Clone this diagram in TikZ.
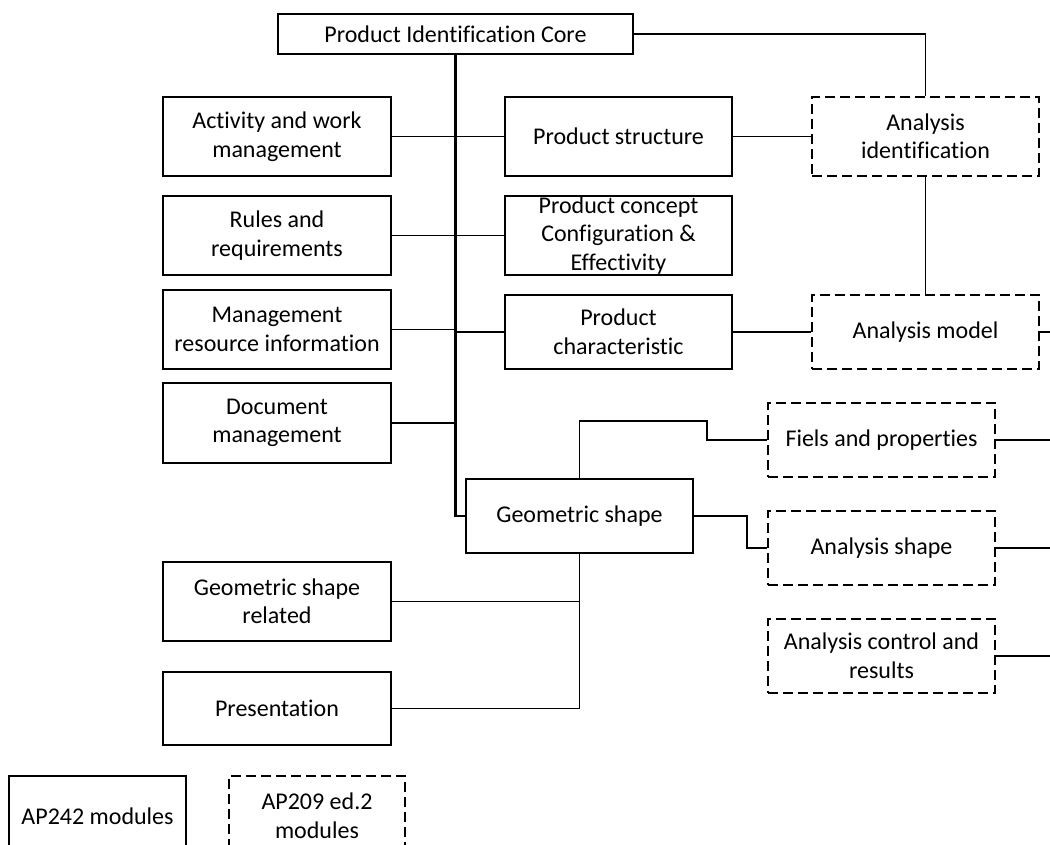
\documentclass[tikz,border=0pt]{standalone}
\usepackage{fontspec}
\setmainfont{Carlito}[Ligatures=NoCommon]
\begin{document}
\begin{tikzpicture}[x=1pt,y=-1pt,
  box/.style={draw=black,line width=1.4pt,inner sep=0pt,align=center,
    font=\fontsize{24}{28.5}\selectfont,text=black},
  dbox/.style={box,dash pattern=on 10pt off 5pt},
  conn/.style={draw=black,line width=1.5pt},
  bus/.style={draw=black,line width=2.3pt}]
\useasboundingbox[fill=white] (0,0) rectangle (1050,845);
% AP242 modules (solid)
\node[box,minimum width=355pt,minimum height=40pt] (pic) at (455.5,34) {Product Identification Core};
\node[box,minimum width=228pt,minimum height=79pt] (act) at (277,136.5) {Activity and work\\management};
\node[box,minimum width=228pt,minimum height=79pt] (rules) at (277,235.5) {Rules and\\requirements};
\node[box,minimum width=228pt,minimum height=79pt] (mgmt) at (277,329.5) {Management\\resource information};
\node[box,minimum width=228pt,minimum height=80pt] (doc) at (277,423) {Document\\management};
\node[box,minimum width=227pt,minimum height=79pt] (ps) at (618.5,136.5) {Product structure};
\node[box,minimum width=227pt,minimum height=79pt] (pc) at (618.5,235.5) {Product concept\\Configuration \&\\Effectivity};
\node[box,minimum width=227pt,minimum height=74pt] (pch) at (618.5,332) {Product\\characteristic};
\node[box,minimum width=227pt,minimum height=74pt] (geo) at (579.5,516) {Geometric shape};
\node[box,minimum width=228pt,minimum height=79pt] (gsr) at (277,601.5) {Geometric shape\\related};
\node[box,minimum width=228pt,minimum height=73pt] (pres) at (277,708.5) {Presentation};
% AP209 ed.2 modules (dashed)
\node[dbox,minimum width=227pt,minimum height=79pt] (aid) at (925.5,136.5) {Analysis\\identification};
\node[dbox,minimum width=227pt,minimum height=74pt] (am) at (925.5,332) {Analysis model};
\node[dbox,minimum width=227pt,minimum height=74pt] (fp) at (881.5,440) {Fiels and properties};
\node[dbox,minimum width=227pt,minimum height=74pt] (as) at (881.5,548) {Analysis shape};
\node[dbox,minimum width=227pt,minimum height=74pt] (acr) at (881.5,656) {Analysis control and\\results};
% free ends at the right border
\coordinate (amR) at (1050,332);
\coordinate (fpR) at (1050,440);
\coordinate (asR) at (1050,548);
\coordinate (acrR) at (1050,656);
% connectors
\draw[bus] (pic.south) |- (geo.west);
\draw[conn] (act.east) -- (ps.west);
\draw[conn] (rules.east) -- (pc.west);
\draw[conn] (mgmt.east) -- (mgmt.east -| pic.south);
\draw[conn] (pch.west) -- (pch.west -| pic.south);
\draw[conn] (doc.east) -- (doc.east -| pic.south);
\draw[conn] (pic.east) -| (aid.north);
\draw[conn] (ps.east) -- (aid.west);
\draw[conn] (aid.south) -- (am.north);
\draw[conn] (pch.east) -- (am.west);
\draw[conn] (am.east) -- (amR);
\draw[conn] (geo.north) |- (707,421) |- (fp.west);
\draw[conn] (geo.east) -| (747,548) -- (as.west);
\draw[conn] (geo.south) |- (pres.east);
\draw[conn] (gsr.east) -- (gsr.east -| geo.south);
\draw[conn] (fp.east) -- (fpR);
\draw[conn] (as.east) -- (asR);
\draw[conn] (acr.east) -- (acrR);
% legend (cut by the lower border)
\begin{scope}
\clip (0,0) rectangle (1050,845);
\node[box,minimum width=177pt,minimum height=80pt] (leg1) at (97.5,816) {AP242 modules};
\node[dbox,minimum width=176pt,minimum height=80pt] (leg2) at (317,816) {AP209 ed.2\\modules};
\end{scope}
\end{tikzpicture}
\end{document}
